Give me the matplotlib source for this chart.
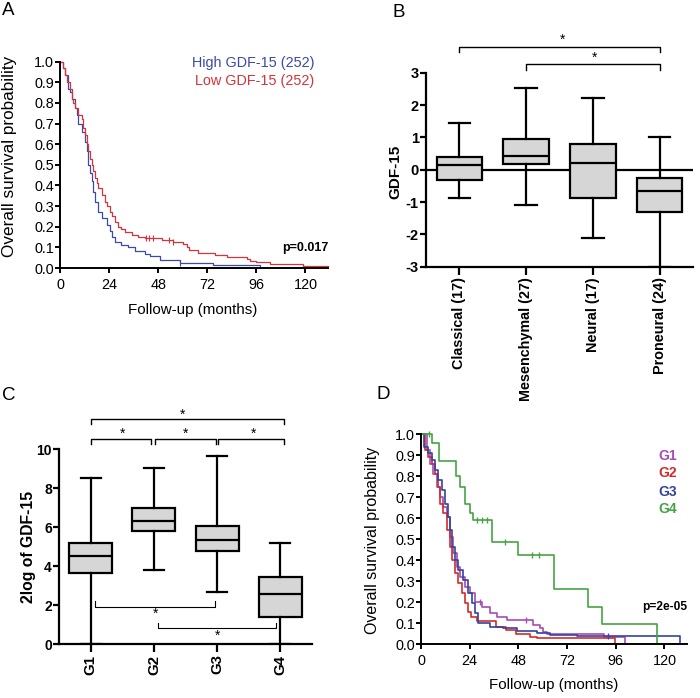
import numpy as np
import matplotlib
matplotlib.use('Agg')
import matplotlib.pyplot as plt
from matplotlib import font_manager

# ---------------- data ----------------
# Panel A: Kaplan-Meier (months, survival probability)
a_high_t = [0, 1.5, 2.4, 4.0, 4.9, 5.7, 7.3, 8.2, 9.0, 10.6, 12.2, 13.0, 13.8, 14.6, 15.5, 16.3,
            17.0, 18.7, 20.4, 22.8, 24.4, 25.5, 26.9, 30.0, 33.0, 36.6, 41.5, 44.0, 49.0, 58.6,
            74.8, 97.7]
a_high_s = [1.0, 0.97, 0.935, 0.87, 0.855, 0.82, 0.775, 0.74, 0.70, 0.66, 0.61, 0.565, 0.50,
            0.46, 0.42, 0.37, 0.32, 0.27, 0.24, 0.21, 0.177, 0.15, 0.128, 0.112, 0.10, 0.08,
            0.066, 0.058, 0.039, 0.026, 0.015, 0.0]
a_low_t = [0, 1.5, 2.4, 3.5, 4.9, 5.7, 6.5, 7.3, 9.0, 10.6, 11.4, 12.2, 13.0, 13.8, 14.6, 15.5,
           16.2, 17.0, 18.0, 18.7, 20.4, 22.0, 23.0, 24.4, 25.5, 26.9, 28.5, 30.0, 32.0, 35.0,
           38.0, 41.5, 50.0, 55.0, 60.2, 61.9, 63.0, 67.5, 76.0, 81.4, 91.2, 92.8, 96.0, 102.6,
           118.7, 131.0]
a_low_s = [1.0, 0.97, 0.935, 0.90, 0.87, 0.82, 0.80, 0.775, 0.74, 0.72, 0.68, 0.645, 0.60,
           0.565, 0.53, 0.50, 0.47, 0.435, 0.41, 0.386, 0.354, 0.32, 0.30, 0.27, 0.25, 0.225,
           0.20, 0.19, 0.175, 0.16, 0.15, 0.145, 0.135, 0.128, 0.115, 0.10, 0.087, 0.071, 0.062,
           0.055, 0.045, 0.036, 0.027, 0.018, 0.010, 0.010]
a_high_cens = [58.6]
a_low_cens = [41.8, 43.5, 45.3, 53.5, 55.2]
a_labels = ['High GDF-15 (252)', 'Low GDF-15 (252)']
a_pvalue = 'p=0.017'

# Panel B: GDF-15 by subtype (box statistics)
b_categories = ['Classical (17)', 'Mesenchymal (27)', 'Neural (17)', 'Proneural (24)']
b_whislo = [-0.87, -1.09, -2.10, -3.00]
b_q1 = [-0.32, 0.17, -0.86, -1.30]
b_med = [0.14, 0.43, 0.20, -0.65]
b_q3 = [0.40, 0.94, 0.79, -0.27]
b_whishi = [1.45, 2.52, 2.23, 1.02]

# Panel C: 2log of GDF-15 by group
c_categories = ['G1', 'G2', 'G3', 'G4']
c_whislo = [0.00, 3.82, 2.65, 0.00]
c_q1 = [3.63, 5.82, 4.79, 1.40]
c_med = [4.50, 6.32, 5.33, 2.57]
c_q3 = [5.17, 6.97, 6.08, 3.46]
c_whishi = [8.51, 9.06, 9.66, 5.19]

# Panel D: Kaplan-Meier by group
d_g1_t = [0, 2.8, 4.4, 6.0, 7.7, 9.4, 11.0, 12.6, 14.3, 15.9, 17.6, 19.2, 21.7, 24.1, 26.6, 29.9,
          34.0, 37.3, 42.2, 55.4, 58.7, 60.3, 62.0, 90.0, 100.6]
d_g1_s = [1.0, 0.925, 0.86, 0.81, 0.75, 0.70, 0.655, 0.607, 0.512, 0.432, 0.369, 0.321, 0.273,
          0.242, 0.20, 0.178, 0.146, 0.13, 0.114, 0.09, 0.075, 0.059, 0.05, 0.032, 0.0]
d_g2_t = [0, 2.0, 3.6, 5.3, 6.9, 8.5, 9.4, 11.0, 12.6, 14.3, 15.1, 16.7, 18.4, 20.0, 21.7, 23.3,
          24.5, 27.5, 37.0, 42.0, 47.0, 53.8, 57.0, 95.7]
d_g2_s = [1.0, 0.925, 0.893, 0.86, 0.81, 0.75, 0.67, 0.623, 0.544, 0.464, 0.40, 0.337, 0.29,
          0.242, 0.195, 0.154, 0.13, 0.11, 0.08, 0.067, 0.05, 0.035, 0.027, 0.0]
d_g3_t = [0, 1.5, 3.5, 5.3, 6.9, 8.5, 10.2, 11.8, 13.5, 14.3, 15.1, 16.7, 18.4, 20.9, 23.3, 25.0,
          26.6, 28.2, 34.0, 40.6, 47.2, 57.0, 63.6, 76.8, 127.7]
d_g3_s = [1.0, 0.94, 0.91, 0.877, 0.83, 0.782, 0.734, 0.67, 0.607, 0.544, 0.464, 0.40, 0.353,
          0.305, 0.242, 0.195, 0.148, 0.10, 0.083, 0.075, 0.064, 0.051, 0.043, 0.038, 0.0]
d_g4_t = [0, 5.3, 9.0, 17.3, 19.2, 21.7, 24.2, 25.8, 35.2, 48.0, 65.6, 82.5, 89.1, 116.6]
d_g4_s = [1.0, 0.96, 0.874, 0.80, 0.75, 0.67, 0.623, 0.59, 0.485, 0.424, 0.26, 0.178, 0.094, 0.0]
d_g1_cens = [29.0, 52.0]
d_g3_cens = [92.4]
d_g4_cens = [4.0, 27.5, 30.0, 32.5, 41.4, 54.6, 58.4]
d_labels = ['G1', 'G2', 'G3', 'G4']
d_pvalue = 'p=2e-05'

# ---------------- style ----------------
avail = {f.name for f in font_manager.fontManager.ttflist}
NARROW_OK = 'Liberation Sans Narrow' in avail
NARROW = 'Liberation Sans Narrow' if NARROW_OK else 'Liberation Sans'
SANS = 'Liberation Sans'
NS = 12 if NARROW_OK else 10.4   # size for horizontal text in KM panels
plt.rcParams['font.family'] = [SANS, 'DejaVu Sans']

W, H = 700, 698
fig = plt.figure(figsize=(W / 100, H / 100), dpi=100)


def rect(l, t, r, b):
    return [l / W, 1 - b / H, (r - l) / W, (b - t) / H]


def km_at(t, s, tc):
    t = np.asarray(t); s = np.asarray(s)
    return s[np.searchsorted(t, tc, side='right') - 1]


A_BLUE, A_RED = '#3d4aa6', '#d4343a'
G_COLS = ['#a64bb4', '#d62a2a', '#3444a0', '#45a343']
BOXFACE = '#d6d6d6'


def km_axes(ax):
    for sp in ['top', 'right']:
        ax.spines[sp].set_visible(False)
    for sp in ['left', 'bottom']:
        ax.spines[sp].set_linewidth(1.4)
    ax.set_xlim(0, 131)
    ax.set_ylim(0, 1.0)
    ax.set_xticks([0, 24, 48, 72, 96, 120])
    ax.set_yticks(np.round(np.arange(0, 1.01, 0.1), 1))
    ax.set_yticklabels(['%.1f' % v for v in np.arange(0, 1.01, 0.1)])
    ax.tick_params(axis='both', width=1.4, length=3.5, labelsize=NS)
    ax.tick_params(axis='y', pad=0.8)
    ax.tick_params(axis='x', pad=3.5)
    for lab in ax.get_xticklabels() + ax.get_yticklabels():
        lab.set_fontfamily(NARROW)


# ---------------- Panel A ----------------
axA = fig.add_axes(rect(60, 61.7, 328, 268))
km_axes(axA)
axA.step(a_high_t, a_high_s, where='post', color=A_BLUE, lw=0.9, clip_on=False)
axA.step(a_low_t, a_low_s, where='post', color=A_RED, lw=0.9, clip_on=False)
axA.plot(a_high_cens, [km_at(a_high_t, a_high_s, c) for c in a_high_cens], ls='none',
         marker='|', ms=4, mew=0.8, color=A_BLUE)
axA.plot(a_low_cens, [km_at(a_low_t, a_low_s, c) for c in a_low_cens], ls='none',
         marker='|', ms=4, mew=0.8, color=A_RED)
axA.text(124.5, 0.994, a_labels[0], color=A_BLUE, ha='right', va='center', fontsize=NS,
         fontfamily=NARROW)
axA.text(124.5, 0.905, a_labels[1], color=A_RED, ha='right', va='center', fontsize=NS,
         fontfamily=NARROW)
axA.text(131, 0.097, a_pvalue, ha='right', va='center', fontsize=9, fontweight='bold')
axA.set_xlabel('Follow-up (months)', fontsize=NS + 0.5, fontfamily=NARROW, va='center')
axA.xaxis.set_label_coords(0.496, -0.204)
axA.set_ylabel('Overall survival probability', fontsize=12.3, va='center')
axA.yaxis.set_label_coords(-0.187, 0.54)


# ---------------- box panels ----------------
def box_axes(ax, cats, lo, q1, med, q3, hi, ylim, yticks, rot_size, ylab, ylab_size,
             tick_size):
    stats = [dict(med=m, q1=a, q3=b, whislo=l, whishi=h, label=c)
             for c, l, a, m, b, h in zip(cats, lo, q1, med, q3, hi)]
    ax.bxp(stats, positions=range(len(cats)), widths=0.68, capwidths=0.32, showfliers=False,
           patch_artist=True, zorder=3,
           boxprops=dict(facecolor=BOXFACE, edgecolor='black', linewidth=1.6),
           whiskerprops=dict(color='black', linewidth=1.6),
           capprops=dict(color='black', linewidth=1.6),
           medianprops=dict(color='black', linewidth=1.6))
    for sp in ['top', 'right']:
        ax.spines[sp].set_visible(False)
    for sp in ['left', 'bottom']:
        ax.spines[sp].set_linewidth(1.6)
    ax.set_xlim(-0.5, 3.5)
    ax.set_ylim(*ylim)
    ax.set_yticks(yticks)
    ax.set_yticklabels([str(v) for v in yticks], fontweight='bold', fontsize=tick_size)
    ax.set_xticks(range(len(cats)))
    ax.set_xticklabels(cats, rotation=90, fontweight='bold', fontsize=rot_size)
    ax.tick_params(axis='y', width=1.6, length=4.3, pad=1)
    ax.tick_params(axis='x', width=1.6, length=5.8, pad=1.8)
    ax.set_ylabel(ylab, fontweight='bold', fontsize=ylab_size, va='center')


def bracket(ax, x0, x1, y, tip, lw=1.0):
    ax.plot([x0, x0, x1, x1], [tip, y, y, tip], color='black', lw=lw, clip_on=False)


def star(ax, x, y, size=10):
    ax.text(x, y, '*', ha='center', va='center', fontsize=size, clip_on=False)


# Panel B
axB = fig.add_axes(rect(426, 72.7, 693, 266.7))
axB.axhline(0, color='black', lw=1.6, zorder=1)
box_axes(axB, b_categories, b_whislo, b_q1, b_med, b_q3, b_whishi, (-3, 3),
         [3, 2, 1, 0, -1, -2, -3], 10.4, 'GDF-15', 11, 10.5)
axB.yaxis.set_label_coords(-0.116, 0.49)
bracket(axB, 0, 3, 3.81, 3.64)
star(axB, 1.55, 4.02)
bracket(axB, 1, 3, 3.27, 3.09)
star(axB, 2.02, 3.45)

# Panel C
axC = fig.add_axes(rect(59.3, 449.3, 311.7, 644))
box_axes(axC, c_categories, c_whislo, c_q1, c_med, c_q3, c_whishi, (0, 10),
         [0, 2, 4, 6, 8, 10], 10.8, '2log of GDF-15', 11.3, 10)
axC.yaxis.set_label_coords(-0.124, 0.496)
bracket(axC, 0, 3.06, 11.54, 11.30)
star(axC, 1.46, 11.78)
bracket(axC, 0, 0.96, 10.53, 10.29)
star(axC, 0.5, 10.80)
bracket(axC, 1.02, 1.98, 10.53, 10.29)
star(axC, 1.5, 10.80)
bracket(axC, 2.02, 3.06, 10.53, 10.29)
star(axC, 2.57, 10.80)
bracket(axC, 0.06, 1.97, 1.92, 2.21, lw=0.8)
star(axC, 1.03, 1.55)
bracket(axC, 1.07, 2.93, 0.81, 1.09, lw=0.8)
star(axC, 2.01, 0.43)

# ---------------- Panel D ----------------
axD = fig.add_axes(rect(421, 434.3, 686.7, 644))
km_axes(axD)
for t, s, col in zip([d_g1_t, d_g2_t, d_g3_t, d_g4_t], [d_g1_s, d_g2_s, d_g3_s, d_g4_s],
                     G_COLS):
    axD.step(t, s, where='post', color=col, lw=1.2, clip_on=False)
for t, s, cens, col in [(d_g1_t, d_g1_s, d_g1_cens, G_COLS[0]),
                        (d_g3_t, d_g3_s, d_g3_cens, G_COLS[2]),
                        (d_g4_t, d_g4_s, d_g4_cens, G_COLS[3])]:
    axD.plot(cens, [km_at(t, s, c) for c in cens], ls='none', marker='|', ms=5, mew=1.0,
             color=col, clip_on=False)
for lab, col, yy in zip(d_labels, G_COLS, [0.897, 0.815, 0.726, 0.644]):
    axD.text(117, yy, lab, color=col, ha='left', va='center', fontsize=10, fontweight='bold')
axD.text(131, 0.176, d_pvalue, ha='right', va='center', fontsize=8.6, fontweight='bold')
axD.set_xlabel('Follow-up (months)', fontsize=NS + 0.5, fontfamily=NARROW, va='center')
axD.xaxis.set_label_coords(0.499, -0.196)
axD.set_ylabel('Overall survival probability', fontsize=11.5, va='center')
axD.yaxis.set_label_coords(-0.184, 0.496)
axD.tick_params(axis='x', pad=4)

# ---------------- panel letters ----------------
for x, y, lab in [(2, 2, 'A'), (392, 4, 'B'), (2, 387, 'C'), (376, 386, 'D')]:
    fig.text(x / W, 1 - y / H, lab, ha='left', va='top', fontsize=13.5)

fig.savefig('out.png', dpi=100)
